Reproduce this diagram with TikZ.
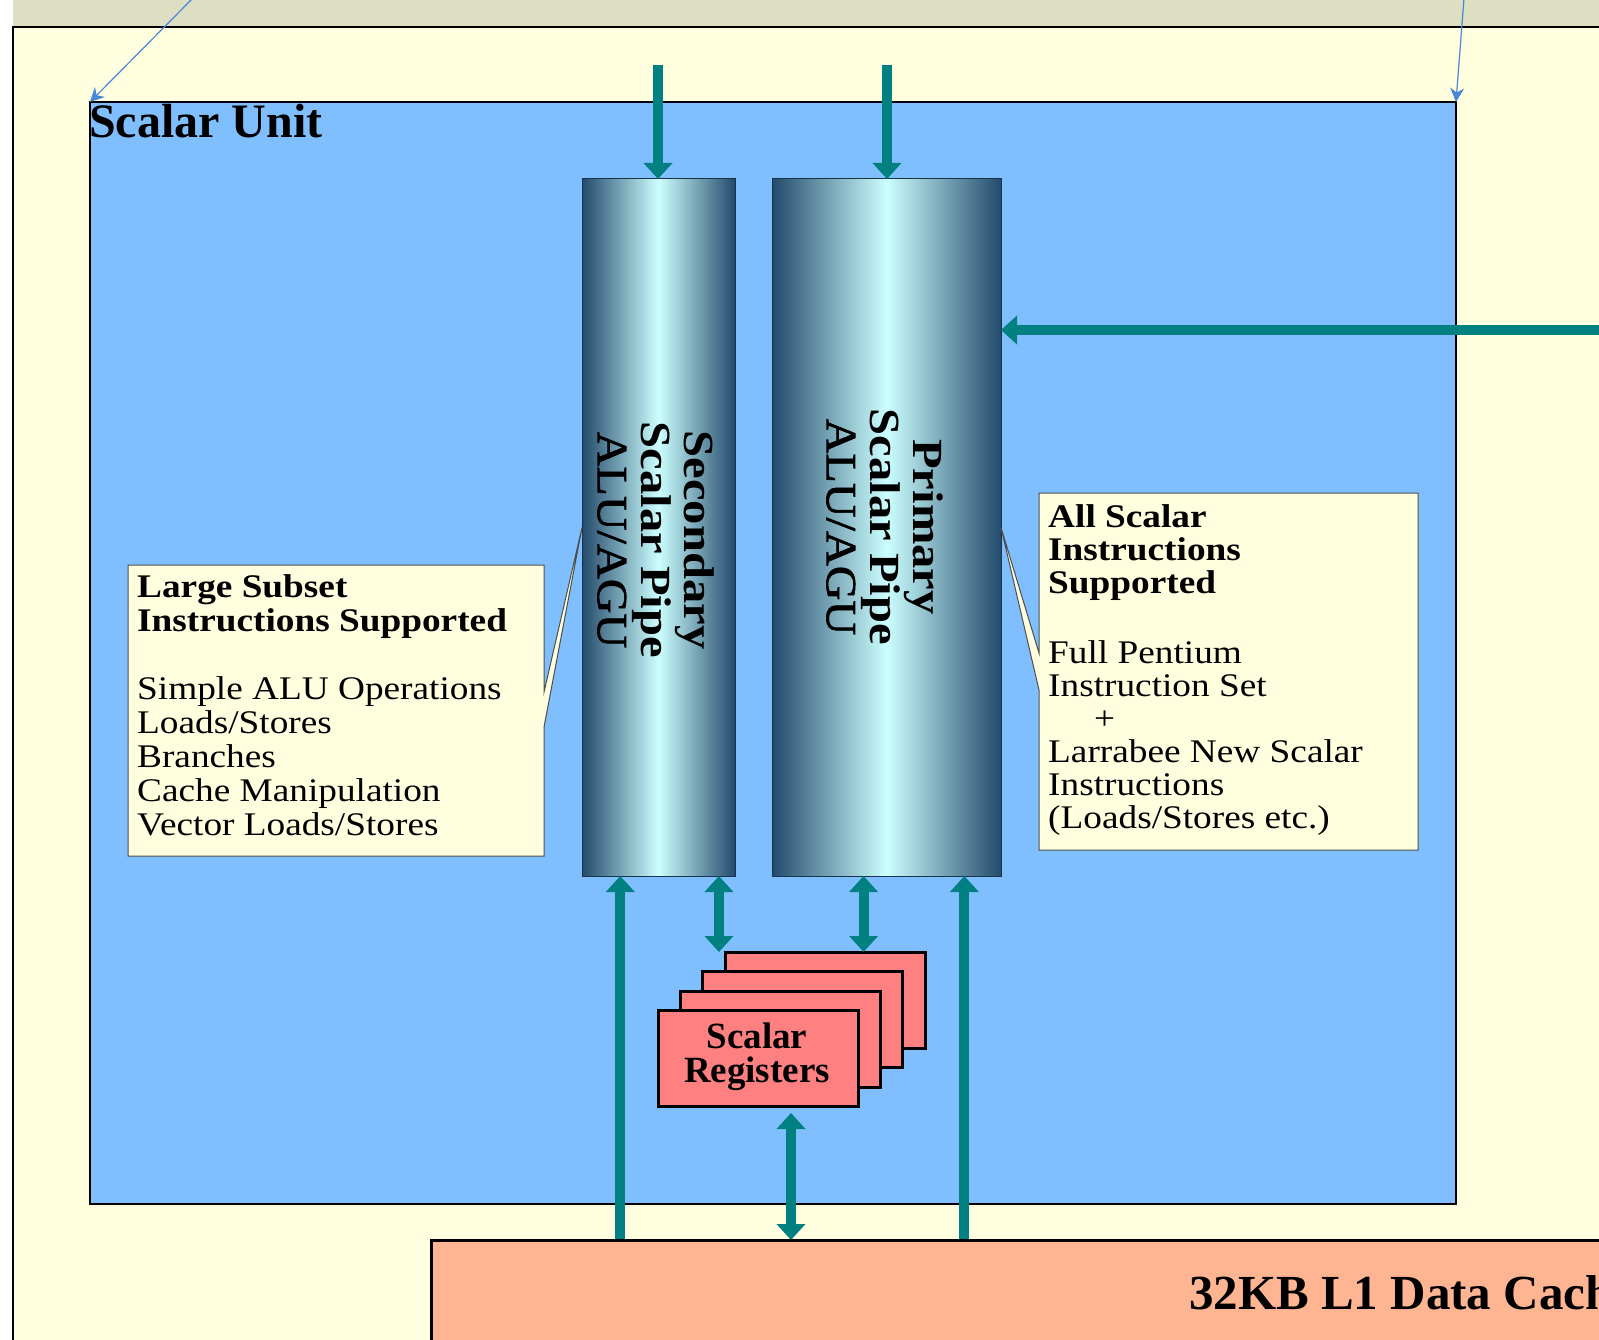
\documentclass[tikz,border=0pt]{standalone}
\usepackage{fontspec}
\setmainfont{Liberation Serif}
\newfontfamily\widefont[FakeStretch=1.13]{Liberation Serif}
\newfontfamily\widesemi[FakeStretch=1.12,FakeBold=1.5]{Liberation Serif}
\usetikzlibrary{arrows.meta,calc}
\definecolor{bandc}{HTML}{DEDEC2}
\definecolor{paperc}{HTML}{FFFFDF}
\definecolor{unitblue}{HTML}{80BFFF}
\definecolor{tealc}{HTML}{008080}
\definecolor{cachec}{HTML}{FFB592}
\definecolor{regc}{HTML}{FF8080}
\definecolor{cyldk}{HTML}{234A6C}
\definecolor{cyllt}{HTML}{CCFFFF}
\definecolor{thinblue}{HTML}{4A86D8}
\definecolor{calloutline}{HTML}{4D4D4D}
\begin{document}
\begin{tikzpicture}[x=1pt,y=-1pt,
  box/.style={anchor=north west, inner sep=0pt, outer sep=0pt},
  cyl/.style={box, draw=cyldk!70!black, line width=1pt, left color=cyldk, right color=cyldk, middle color=cyllt},
  reg/.style={box, fill=regc, draw=black, line width=3pt, minimum width=200pt, minimum height=96pt},
  flow/.style={draw=tealc, line width=10pt, -{Triangle[width=28pt,length=16pt]}},
  flowtwo/.style={draw=tealc, line width=10pt, {Triangle[width=28pt,length=16pt]}-{Triangle[width=28pt,length=16pt]}},
  pointer/.style={draw=thinblue, line width=1.2pt, -{Stealth[width=14pt,length=14pt]}},
  callout/.style={draw=calloutline, fill=paperc, line width=1pt, line join=miter},
  calltext/.style={anchor=base west, inner sep=0pt},
  cyltext/.style={rotate=-90, align=center, inner sep=0pt, font=\widefont\fontsize{43}{43.5}\selectfont}
]
\useasboundingbox (0,0) rectangle (1599,1340);
\clip (0,0) rectangle (1599,1340);
\fill[white] (0,0) rectangle (1599,1340);

% background frame
\node[box, fill=bandc, minimum width=1600pt, minimum height=27pt] (band) at (13,0) {};
\node[box, fill=paperc, draw=black, line width=1.5pt, minimum width=1640pt, minimum height=1360pt] (frame) at (13,27) {};

% scalar unit
\node[box, fill=unitblue, draw=black, line width=2.5pt, minimum width=1366pt, minimum height=1102pt] (su) at (90,102) {};

% thin pointers
\coordinate (bl) at (193,-2);
\coordinate (br) at (1464,-2);
\draw[pointer] (bl) -- (su.north west);
\draw[pointer] (br) -- (su.north east);

\node[anchor=base west, inner sep=0pt, font=\bfseries\fontsize{48}{48}\selectfont] (sutitle) at (89,138) {Scalar Unit};

% cylinders (pipes)
\node[cyl, minimum width=153pt, minimum height=697pt] (sec) at (582,179) {};
\node[cyl, minimum width=229pt, minimum height=697pt] (pri) at (772,179) {};
\node[cyltext] (sect) at (656,540) {\textbf{Secondary}\\\textbf{Scalar Pipe}\\{\widesemi ALU/AGU}};
\node[cyltext] (prit) at (885,527) {\textbf{Primary}\\\textbf{Scalar Pipe}\\{\widesemi ALU/AGU}};

% callouts
\path[callout] (128,565) -- (544,565) -- (544,692) -- (sec.west) -- (544,727) -- (544,856) -- (128,856) -- cycle;
\path[callout] (1039,493) -- (1418,493) -- (1418,850) -- (1039,850) -- (1039,690) -- (pri.east) -- (1039,653) -- cycle;

\node[calltext, font=\widefont\fontsize{33}{34}\selectfont] (lefttext) at (137,597)
 {\vtop{\hbox{\bfseries Large Subset}\hbox{\bfseries Instructions Supported}\hbox{}
  \hbox{Simple ALU Operations}\hbox{Loads/Stores}\hbox{Branches}\hbox{Cache Manipulation}\hbox{Vector Loads/Stores}}};
\node[calltext, font=\widefont\fontsize{33}{33}\selectfont] (righttext) at (1048,527)
 {\vtop{\hbox{\bfseries All Scalar}\hbox{\bfseries Instructions}\hbox{\bfseries Supported}\hbox{}\vskip4pt
  \hbox{Full Pentium}\hbox{Instruction Set}\hbox{\hskip46pt+}\hbox{Larrabee New Scalar}\hbox{Instructions}\hbox{(Loads/Stores etc.)}}};

% registers
\node[reg] (r4) at (725,952) {};
\node[reg] (r3) at (702,971) {};
\node[reg] (r2) at (680,991) {};
\node[reg] (r1) at (658,1010) {};
\node[align=center, inner sep=0pt, font=\bfseries\fontsize{37}{34}\selectfont] (regt) at (757,1057) {Scalar\\Registers};

% connectors
\coordinate (secin) at (658,65);
\coordinate (priin) at (887,65);
\coordinate (rin) at (1615,330);
\draw[flow] (secin) -- (secin |- sec.north);
\draw[flow] (priin) -- (priin |- pri.north);
\draw[flow] (rin) -- (rin -| pri.east);

\coordinate (s1) at ($(sec.south west)!0.25!(sec.south east)$);
\coordinate (s2) at ($(sec.south west)!0.895!(sec.south east)$);
\coordinate (p1) at ($(pri.south west)!0.4!(pri.south east)$);
\coordinate (p2) at ($(pri.south west)!0.84!(pri.south east)$);
\coordinate (rg) at ($(r1.south west)!0.665!(r1.south east)$);

\node[box, minimum width=1250pt, minimum height=200pt] (cache) at (431,1240) {};
\draw[flow] (s1 |- cache.north) -- (s1);
\draw[flow] (p2 |- cache.north) -- (p2);
\draw[flowtwo] (s2) -- (s2 |- r4.north);
\draw[flowtwo] (p1) -- (p1 |- r4.north);
\draw[flowtwo] ([yshift=-7pt]rg) -- (rg |- cache.north);

% cache
\path[fill=cachec, draw=black, line width=3pt] (cache.north west) rectangle (cache.south east);
\node[anchor=base west, inner sep=0pt, font=\bfseries\fontsize{49}{49}\selectfont] (cachet) at (1189,1309) {32KB L1 Data Cache};
\end{tikzpicture}
\end{document}
